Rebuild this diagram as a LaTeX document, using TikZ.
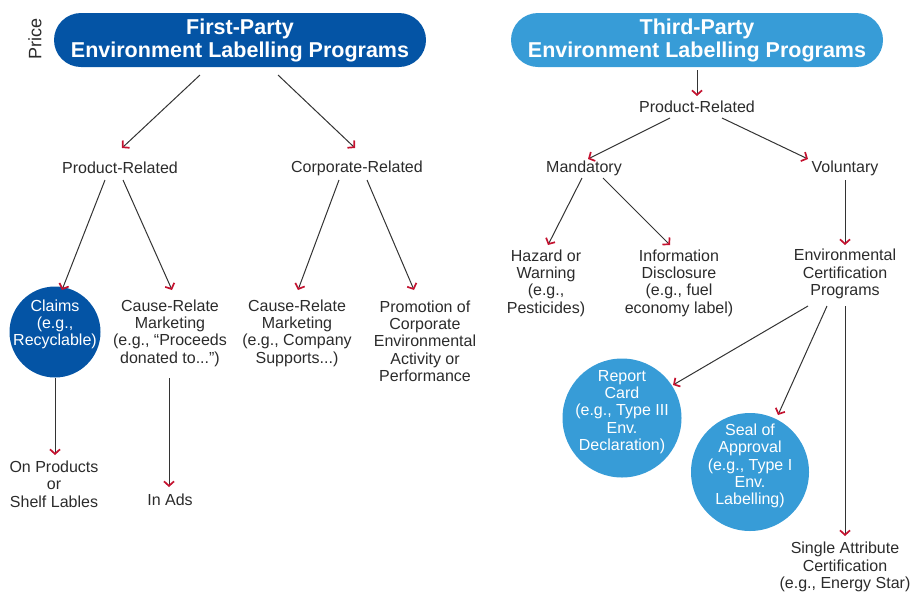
\documentclass[tikz,border=0pt]{standalone}
\usepackage{fontspec}
\setmainfont{Liberation Sans}
\usetikzlibrary{arrows.meta,calc}
\definecolor{darkblue}{HTML}{0454A5}
\definecolor{lightblue}{HTML}{379CD7}
\definecolor{txtgray}{HTML}{2B2B2B}
\definecolor{linegray}{HTML}{333333}
\definecolor{arrred}{HTML}{C4122F}
\tikzset{
  pill/.style={fill=#1, rounded corners=27pt, minimum width=372pt, minimum height=54pt, inner sep=0pt,
    text=white, align=center, font=\fontsize{21.5}{23}\selectfont\bfseries},
  lbl/.style={inner sep=0pt, align=center, text=txtgray, font=\fontsize{16}{17.3}\selectfont},
  wlbl/.style={inner sep=0pt, align=center, text=white, font=\fontsize{16}{17.3}\selectfont},
  disc/.style={circle, fill=#1, inner sep=0pt},
  arr/.style={draw=linegray, line width=1pt, -{Straight Barb[color=arrred,length=4.5pt,width=10pt,line width=1.7pt]}}
}
\begin{document}
\begin{tikzpicture}[x=1pt,y=-1pt]
\path[use as bounding box] (0,0) rectangle (912,595);

% headers
\node[rotate=90, text=txtgray, inner sep=0pt, font=\fontsize{18}{20}\selectfont] (price) at (35,39) {Price};
\node[pill=darkblue] (lp) at (240,40) {First-Party\\Environment Labelling Programs};
\node[pill=lightblue] (rp) at (697,40) {Third-Party\\Environment Labelling Programs};

% left tree
\node[lbl] (prl) at (120,168) {Product-Related};
\node[lbl] (crl) at (357,168) {Corporate-Related};
\node[disc=darkblue, minimum size=91pt] (claims) at (55,332) {};
\node[wlbl] (claimst) at (55,324.5) {Claims\\(e.g.,\\Recyclable)};
\node[lbl] (cause1) at (170,333) {Cause-Relate\\Marketing\\(e.g., “Proceeds\\donated to...”)};
\node[lbl] (cause2) at (297,333) {Cause-Relate\\Marketing\\(e.g., Company\\Supports...)};
\node[lbl] (promo) at (425,341) {Promotion of\\Corporate\\Environmental\\Activity or\\Performance};
\node[lbl] (onprod) at (54,484) {On Products\\or\\Shelf Lables};
\node[lbl] (inads) at (170,500) {In Ads};

% right tree
\node[lbl] (prr) at (697,107) {Product-Related};
\node[lbl] (mand) at (584,168) {Mandatory};
\node[lbl] (vol) at (845,168) {Voluntary};
\node[lbl] (hazard) at (546,283) {Hazard or\\Warning\\(e.g.,\\Pesticides)};
\node[lbl] (info) at (679,283) {Information\\Disclosure\\(e.g., fuel\\economy label)};
\node[lbl] (envcert) at (845,274) {Environmental\\Certification\\Programs};
\node[disc=lightblue, minimum size=119pt] (report) at (622,418) {};
\node[wlbl] (reportt) at (622,412) {Report\\Card\\(e.g., Type III\\Env.\\Declaration)};
\node[disc=lightblue, minimum size=118pt] (seal) at (750,472) {};
\node[wlbl] (sealt) at (750,466) {Seal of\\Approval\\(e.g., Type I\\Env.\\Labelling)};
\node[lbl] (single) at (845,567) {Single Attribute\\Certification\\(e.g., Energy Star)};

% left connectors
\draw[arr] ($(lp)+(-40,35)$) -- ($(prl)+(2,-20)$);
\draw[arr] ($(lp)+(38,35)$) -- ($(crl)+(-2,-20)$);
\draw[arr] ($(prl)+(-15,12)$) -- ($(claims)+(7,-42)$);
\draw[arr] ($(prl)+(3,12)$) -- ($(cause1)+(2,-43)$);
\draw[arr] ($(crl)+(-18,12)$) -- ($(cause2)+(1,-43)$);
\draw[arr] ($(crl)+(10,12)$) -- ($(promo)+(-11,-51)$);
\draw[arr] ($(claims)+(0,46)$) -- ($(onprod)+(1,-29)$);
\draw[arr] ($(cause1)+(-1,45)$) -- ($(inads)+(-1,-13)$);

% right connectors
\draw[arr] ($(rp)+(0,30)$) -- ($(prr)+(0,-11)$);
\draw[arr] ($(prr)+(-27,11)$) -- ($(mand)+(4,-9)$);
\draw[arr] ($(prr)+(25,11)$) -- ($(vol)+(-37,-9)$);
\draw[arr] ($(mand)+(-2,10)$) -- ($(hazard)+(2,-38)$);
\draw[arr] ($(mand)+(19,10)$) -- ($(info)+(-9,-38)$);
\draw[arr] ($(vol)+(0,12)$) -- ($(envcert)+(0,-29)$);
\draw[arr] ($(envcert)+(-37,32)$) -- ($(report)+(51,-33)$);
\draw[arr] ($(envcert)+(-18,32)$) -- ($(seal)+(28,-57)$);
\draw[arr] ($(envcert)+(0,32)$) -- ($(single)+(0,-31)$);
\end{tikzpicture}
\end{document}
